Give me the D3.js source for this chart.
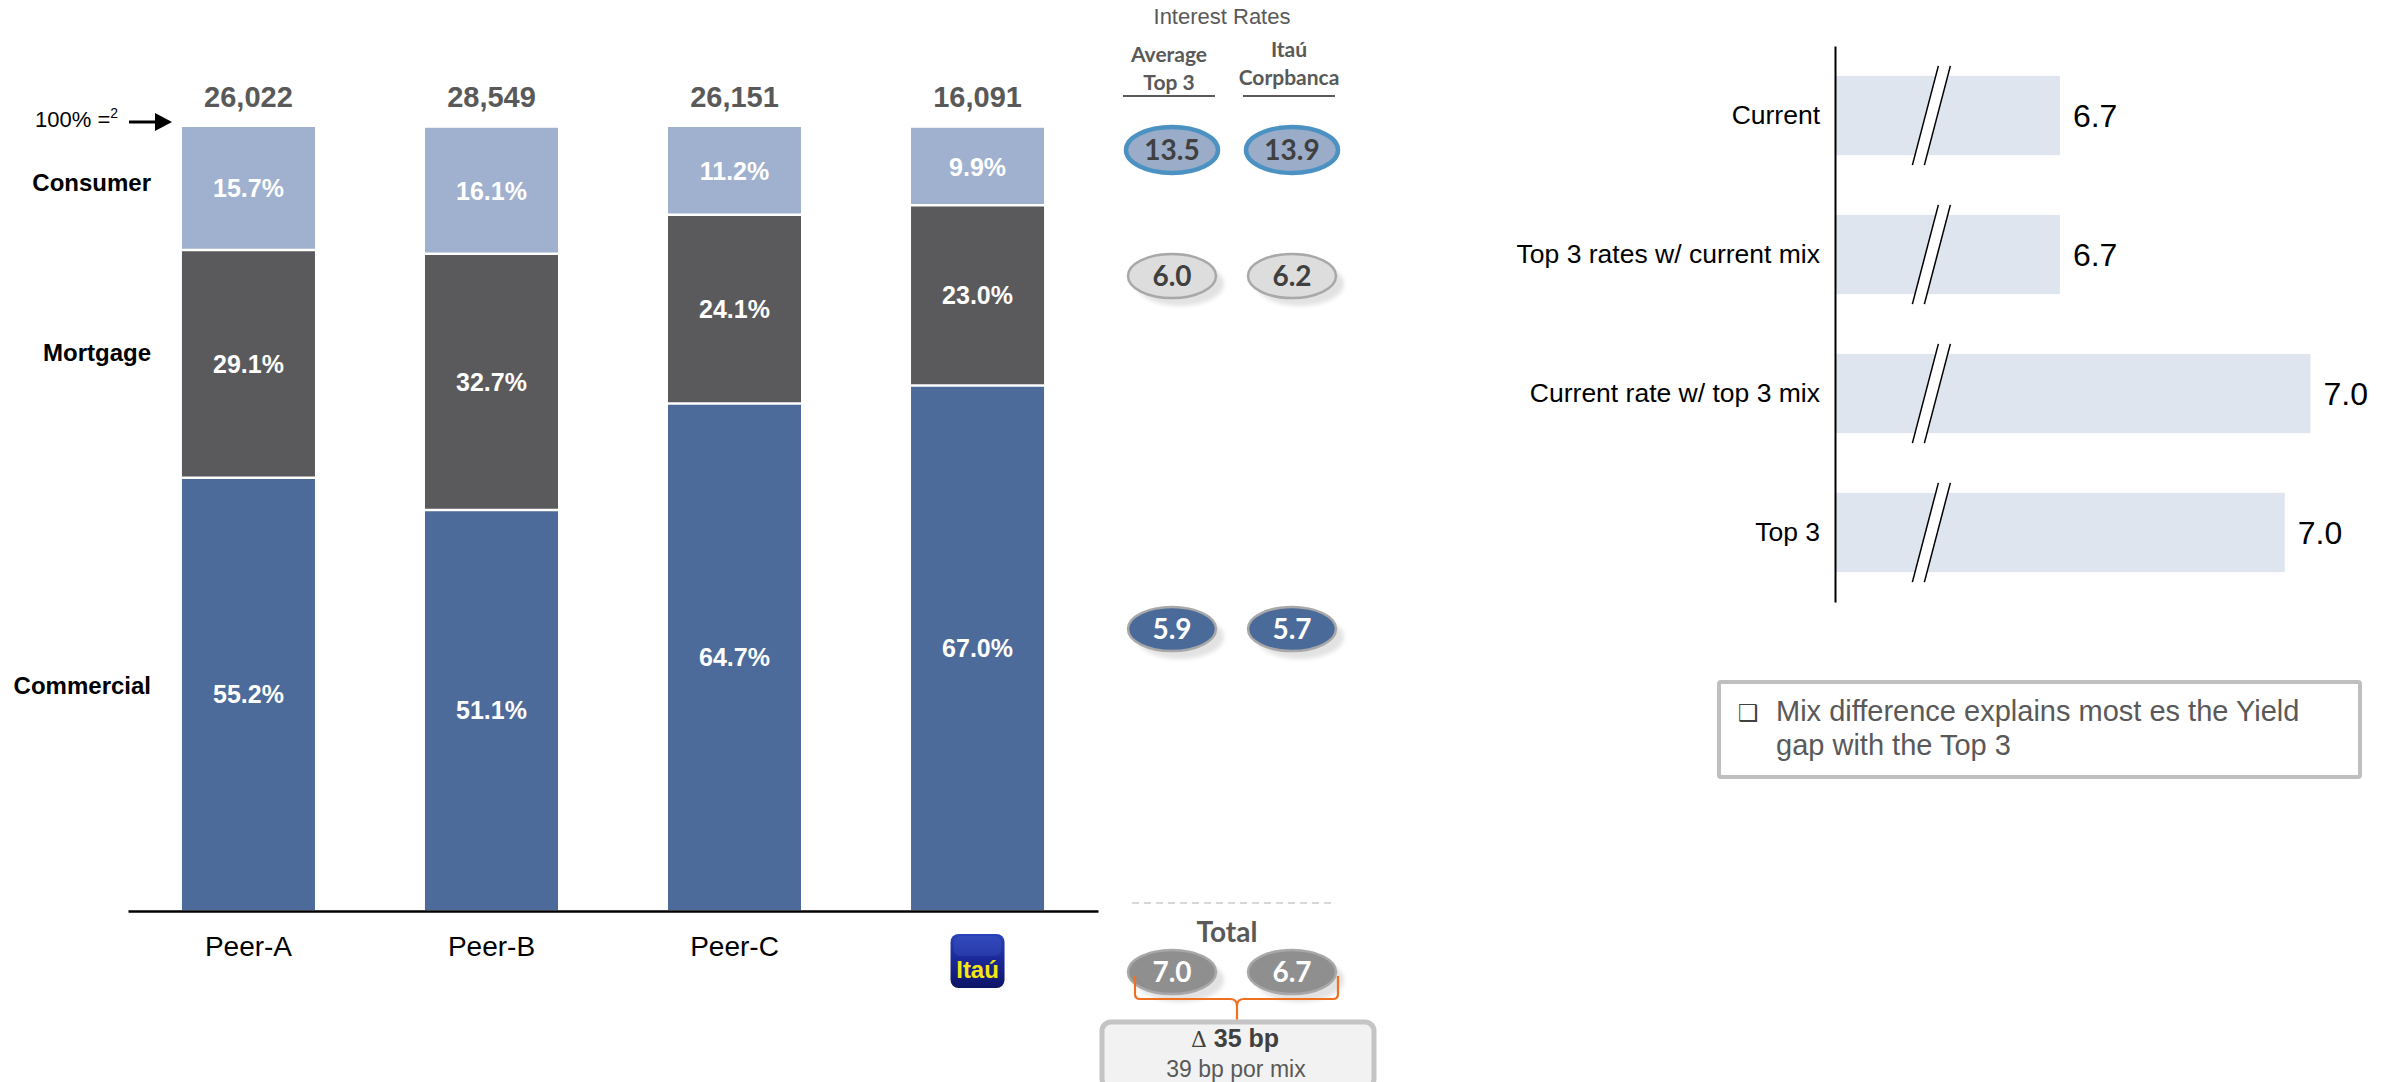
<!DOCTYPE html>
<html>
<head>
<meta charset="utf-8">
<script src="https://cdn.jsdelivr.net/npm/d3@7"></script>
<style>
  html, body { margin: 0; padding: 0; background: #ffffff; }
  svg { display: block; }
</style>
</head>
<body>
<svg id="chart" width="2392" height="1082"></svg>
<script>
// ---- Loan portfolio mix by bank (share of portfolio, %) ----
const banks = ["Peer-A", "Peer-B", "Peer-C", "Itaú"];
const segments = ["Commercial", "Mortgage", "Consumer"];
const commercialShare = [55.2, 51.1, 64.7, 67.0];
const mortgageShare   = [29.1, 32.7, 24.1, 23.0];
const consumerShare   = [15.7, 16.1, 11.2, 9.9];
const portfolioTotals = ["26,022", "28,549", "26,151", "16,091"];

// ---- Interest rates by segment ----
const rateRows      = ["Consumer", "Mortgage", "Commercial"];
const rateTop3Avg   = [13.5, 6.0, 5.9];
const rateItau      = [13.9, 6.2, 5.7];
const totalRates    = [7.0, 6.7];
const deltaLabel    = "35 bp";
const mixLabel      = "39 bp por mix";

// ---- Yield scenarios ----
const scenarios     = ["Current", "Top 3 rates w/ current mix", "Current rate w/ top 3 mix", "Top 3"];
const scenarioYield = [6.65, 6.65, 7.04, 7.00];
const noteLines     = ["Mix difference explains most es the Yield", "gap with the Top 3"];

const svg = d3.select("#chart");
const ARIAL = "'Liberation Sans', Arial, sans-serif";
const CALIBRI = "Lato, 'Open Sans', sans-serif";

const defs = svg.append("defs");
defs.append("filter").attr("id", "soft").attr("x", "-20%").attr("y", "-30%").attr("width", "140%").attr("height", "160%")
  .append("feGaussianBlur").attr("stdDeviation", 2.2);
const lg = defs.append("linearGradient").attr("id", "logoGrad").attr("x1", 0).attr("y1", 0).attr("x2", 0).attr("y2", 1);
lg.append("stop").attr("offset", "0%").attr("stop-color", "#2a43b8");
lg.append("stop").attr("offset", "45%").attr("stop-color", "#1b2a9a");
lg.append("stop").attr("offset", "100%").attr("stop-color", "#0d1465");

// ================= Stacked 100% bars =================
const rows = banks.map((b, i) => ({
  bank: b,
  Commercial: commercialShare[i],
  Mortgage: mortgageShare[i],
  Consumer: consumerShare[i],
  total: portfolioTotals[i]
}));

const x = d3.scaleBand().domain(banks).range([128, 1098]).paddingInner(0.4527).paddingOuter(0.222);
const y = d3.scaleLinear().domain([0, 100]).range([910, 127]);
const segColor = d3.scaleOrdinal().domain(segments).range(["#4c6b9a", "#5a5a5c", "#9fb1ce"]);

const stacked = d3.stack().keys(segments)(rows);

const barG = svg.append("g");
stacked.forEach(layer => {
  barG.selectAll(null).data(layer).join("rect")
    .attr("x", d => x(d.data.bank))
    .attr("y", d => y(d[1]))
    .attr("width", x.bandwidth())
    .attr("height", d => y(d[0]) - y(d[1]))
    .attr("fill", segColor(layer.key));
});
// thin white separators between segments
stacked.slice(1).forEach(layer => {
  barG.selectAll(null).data(layer).join("line")
    .attr("x1", d => x(d.data.bank)).attr("x2", d => x(d.data.bank) + x.bandwidth())
    .attr("y1", d => y(d[0])).attr("y2", d => y(d[0]))
    .attr("stroke", "#ffffff").attr("stroke-width", 2.5);
});
// segment share labels
stacked.forEach(layer => {
  barG.selectAll(null).data(layer).join("text")
    .attr("x", d => x(d.data.bank) + x.bandwidth() / 2)
    .attr("y", d => (y(d[0]) + y(d[1])) / 2)
    .attr("dy", "0.36em")
    .attr("text-anchor", "middle")
    .attr("font-family", ARIAL).attr("font-weight", "bold").attr("font-size", 25)
    .attr("fill", "#ffffff")
    .text(d => d3.format(".1f")(d.data[layer.key]) + "%");
});
// portfolio size above each bar
barG.selectAll(null).data(rows).join("text")
  .attr("x", d => x(d.bank) + x.bandwidth() / 2)
  .attr("y", 107)
  .attr("text-anchor", "middle")
  .attr("font-family", ARIAL).attr("font-weight", "bold").attr("font-size", 29)
  .attr("fill", "#595959")
  .text(d => d.total);

// segment names on the left, aligned with the first bar
const labelShift = { Commercial: -9, Mortgage: -11, Consumer: -6 };
const firstBar = stacked.map(layer => ({ key: layer.key, mid: (y(layer[0][0]) + y(layer[0][1])) / 2 }));
svg.append("g").selectAll("text").data(firstBar).join("text")
  .attr("x", 151).attr("y", d => d.mid + labelShift[d.key]).attr("dy", "0.36em")
  .attr("text-anchor", "end")
  .attr("font-family", ARIAL).attr("font-weight", "bold").attr("font-size", 24)
  .attr("fill", "#000000")
  .text(d => d.key);

// "100% =" marker with arrow
const hundred = svg.append("text").attr("x", 35).attr("y", 127)
  .attr("font-family", ARIAL).attr("font-size", 22).attr("fill", "#000");
hundred.append("tspan").text("100% =");
hundred.append("tspan").attr("font-size", 14).attr("dy", -9).text("2");
svg.append("line").attr("x1", 129).attr("x2", 158).attr("y1", 122).attr("y2", 122)
  .attr("stroke", "#000").attr("stroke-width", 3);
svg.append("path").attr("d", "M155,113 L172,122 L155,131 Z").attr("fill", "#000");

// x axis
const xAxis = d3.axisBottom(x).tickSize(0).tickSizeOuter(0).tickPadding(42);
const xAxisG = svg.append("g").attr("transform", "translate(0,911)").call(xAxis);
xAxisG.select(".domain").attr("stroke", "#000").attr("stroke-width", 2.5);
xAxisG.selectAll(".tick text")
  .attr("font-family", ARIAL).attr("font-size", 28).attr("fill", "#000")
  .attr("dy", "0.1em");
// bank logo replaces the last tick label
xAxisG.selectAll(".tick").filter(d => d === "Itaú").each(function () {
  const t = d3.select(this);
  t.select("text").remove();
  t.append("rect").attr("x", -27).attr("y", 23).attr("width", 54).attr("height", 54)
    .attr("rx", 8).attr("fill", "url(#logoGrad)");
  t.append("rect").attr("x", -24).attr("y", 25).attr("width", 48).attr("height", 20)
    .attr("rx", 7).attr("fill", "#4a63d0").attr("opacity", 0.25);
  t.append("text").attr("x", 0).attr("y", 67).attr("text-anchor", "middle")
    .attr("font-family", ARIAL).attr("font-weight", "bold").attr("font-size", 24)
    .attr("fill", "#f5e612").text("Itaú");
});

// ================= Interest rate bubbles =================
const colX = [1172, 1292];
const rowY = [150, 276, 629];
const rowStyle = [
  { fill: "#9bacc9", stroke: "#4b92c3", sw: 4.5, text: "#404040", rx: 46, ry: 23, shadow: false },
  { fill: "#dddddd", stroke: "#a8a8a8", sw: 2.5, text: "#404040", rx: 44, ry: 22, shadow: true },
  { fill: "#4a6a9a", stroke: "#a8a8a8", sw: 2.5, text: "#ffffff", rx: 44, ry: 22, shadow: true }
];
const totalStyle = { fill: "#8f8f8f", stroke: "#a8a8a8", sw: 2.5, text: "#ffffff", rx: 44, ry: 22, shadow: true };

function bubble(cx, cy, st, value) {
  const g = svg.append("g");
  if (st.shadow) {
    g.append("ellipse").attr("cx", cx + 8).attr("cy", cy + 8).attr("rx", st.rx).attr("ry", st.ry)
      .attr("fill", "#e2e2e2").attr("filter", "url(#soft)");
  }
  g.append("ellipse").attr("cx", cx).attr("cy", cy).attr("rx", st.rx).attr("ry", st.ry)
    .attr("fill", st.fill).attr("stroke", st.stroke).attr("stroke-width", st.sw);
  g.append("text").attr("x", cx).attr("y", cy).attr("dy", "0.36em").attr("text-anchor", "middle")
    .attr("font-family", CALIBRI).attr("font-weight", "bold").attr("font-size", 28)
    .attr("fill", st.text).text(d3.format(".1f")(value));
}

svg.append("text").attr("x", 1222).attr("y", 24).attr("text-anchor", "middle")
  .attr("font-family", ARIAL).attr("font-size", 22).attr("fill", "#595959").text("Interest Rates");

const headers = [["Average", "Top 3"], ["Itaú", "Corpbanca"]];
const headerBase = [[62, 90], [57, 85]];
const headerX = [1169, 1289];
headers.forEach((lines, i) => {
  lines.forEach((ln, j) => {
    svg.append("text").attr("x", headerX[i]).attr("y", headerBase[i][j]).attr("text-anchor", "middle")
      .attr("font-family", CALIBRI).attr("font-weight", "bold").attr("font-size", 21)
      .attr("fill", "#595959").text(ln);
  });
});
svg.append("line").attr("x1", 1123).attr("x2", 1215).attr("y1", 96).attr("y2", 96).attr("stroke", "#595959").attr("stroke-width", 2);
svg.append("line").attr("x1", 1243).attr("x2", 1335).attr("y1", 96).attr("y2", 96).attr("stroke", "#595959").attr("stroke-width", 2);

rateRows.forEach((r, i) => {
  bubble(colX[0], rowY[i], rowStyle[i], rateTop3Avg[i]);
  bubble(colX[1], rowY[i], rowStyle[i], rateItau[i]);
});

// totals
svg.append("line").attr("x1", 1132).attr("x2", 1332).attr("y1", 903).attr("y2", 903)
  .attr("stroke", "#cccccc").attr("stroke-width", 1.5).attr("stroke-dasharray", "7,5");
svg.append("text").attr("x", 1227).attr("y", 942).attr("text-anchor", "middle")
  .attr("font-family", CALIBRI).attr("font-weight", "bold").attr("font-size", 28)
  .attr("fill", "#595959").text("Total");
bubble(colX[0], 972, totalStyle, totalRates[0]);
bubble(colX[1], 972, totalStyle, totalRates[1]);

// orange brace joining the totals
svg.append("path")
  .attr("d", "M1135,976 L1135,994 Q1135,999 1140,999 L1230,999 Q1237,999 1237,1006 L1237,1021 M1237,1006 Q1237,999 1244,999 L1333,999 Q1338,999 1338,994 L1338,976")
  .attr("fill", "none").attr("stroke", "#f07022").attr("stroke-width", 2.2);

// gap box
svg.append("rect").attr("x", 1102).attr("y", 1022).attr("width", 272).attr("height", 66).attr("rx", 9)
  .attr("fill", "#f2f2f2").attr("stroke", "#c4c4c4").attr("stroke-width", 5);
const dt = svg.append("text").attr("x", 1235).attr("y", 1047).attr("text-anchor", "middle")
  .attr("font-size", 25).attr("fill", "#404040");
dt.append("tspan").attr("font-family", "'DejaVu Serif', serif").attr("font-size", 22).text("Δ  ");
dt.append("tspan").attr("font-family", ARIAL).attr("font-weight", "bold").text(deltaLabel);
svg.append("text").attr("x", 1236).attr("y", 1077).attr("text-anchor", "middle")
  .attr("font-family", ARIAL).attr("font-size", 23).attr("fill", "#595959").text(mixLabel);

// ================= Yield scenarios (broken axis) =================
const yS = d3.scaleBand().domain(scenarios).range([46, 602]).paddingInner(0.43).paddingOuter(0.215);
const xS = d3.scaleLinear().domain([6.3, 7.1]).range([1835, 2349]);
const breakAt = 6.45;

const sg = svg.append("g");
sg.selectAll("rect").data(scenarios).join("rect")
  .attr("x", xS(6.3)).attr("y", d => yS(d))
  .attr("width", (d, i) => xS(scenarioYield[i]) - xS(6.3))
  .attr("height", yS.bandwidth())
  .attr("fill", "#dfe5ef");
sg.selectAll(".val").data(scenarios).join("text").attr("class", "val")
  .attr("x", (d, i) => xS(scenarioYield[i]) + 13)
  .attr("y", d => yS(d) + yS.bandwidth() / 2)
  .attr("dy", "0.36em")
  .attr("font-family", ARIAL).attr("font-size", 32).attr("fill", "#000")
  .text((d, i) => d3.format(".1f")(scenarioYield[i]));

// axis-break marks through each bar
scenarios.forEach(d => {
  const bx = xS(breakAt), top = yS(d) - 10, bot = yS(d) + yS.bandwidth() + 10;
  const g = sg.append("g");
  g.append("path").attr("d", `M${bx + 7},${top} L${bx + 19},${top} L${bx - 7},${bot} L${bx - 19},${bot} Z`).attr("fill", "#ffffff");
  g.append("line").attr("x1", bx + 7).attr("y1", top).attr("x2", bx - 19).attr("y2", bot).attr("stroke", "#000").attr("stroke-width", 1.5);
  g.append("line").attr("x1", bx + 19).attr("y1", top).attr("x2", bx - 7).attr("y2", bot).attr("stroke", "#000").attr("stroke-width", 1.5);
});

const yAxisG = svg.append("g").attr("transform", `translate(${xS(6.3)},0)`)
  .call(d3.axisLeft(yS).tickSize(0).tickSizeOuter(0).tickPadding(15));
yAxisG.select(".domain").attr("stroke", "#000").attr("stroke-width", 2);
yAxisG.selectAll(".tick text").attr("font-family", ARIAL).attr("font-size", 26.5).attr("fill", "#000");

// takeaway note
svg.append("rect").attr("x", 1719).attr("y", 682).attr("width", 641).attr("height", 95).attr("rx", 2)
  .attr("fill", "#ffffff").attr("stroke", "#bfbfbf").attr("stroke-width", 4);
svg.append("text").attr("x", 1738).attr("y", 721)
  .attr("font-family", "'DejaVu Sans', sans-serif").attr("font-size", 23).attr("fill", "#404040").text("❑");
svg.append("g").selectAll("text").data(noteLines).join("text")
  .attr("x", 1776).attr("y", (d, i) => 721 + i * 34)
  .attr("font-family", ARIAL).attr("font-size", 29).attr("fill", "#595959")
  .text(d => d);
</script>
</body>
</html>
